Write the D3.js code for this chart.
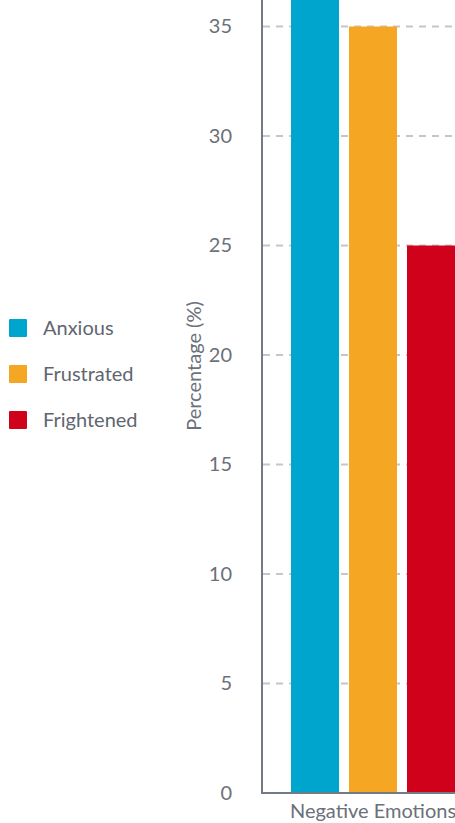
<!DOCTYPE html>
<html>
<head>
<meta charset="utf-8">
<script src="https://cdn.jsdelivr.net/npm/d3@7"></script>
<style>
  body { margin: 0; background: #fff; }
  svg { display: block; font-family: Lato, "Open Sans", sans-serif; }
</style>
</head>
<body>
<svg width="455" height="823"></svg>
<script>
// chart data
var categories = ["Negative Emotions"];
var seriesNames = ["Anxious", "Frustrated", "Frightened"];
var seriesColors = ["#00a5cd", "#f5a623", "#d0021b"];
var seriesValues = [40, 35, 25];
var yTicks = [0, 5, 10, 15, 20, 25, 30, 35];

var svg = d3.select("svg");

// y scale: 0 sits at 793, 35 at ~26.5
var y = d3.scaleLinear().domain([0, 35]).range([793, 26.5]);

// outer band for the category, inner band for the series
var x0 = d3.scaleBand().domain(categories).range([291, 455]);
var x1 = d3.scaleBand().domain(seriesNames).range([0, x0.bandwidth()]).paddingInner(10 / 58);

// gridlines
svg.append("g")
  .selectAll("line.grid")
  .data(yTicks.filter(function(d) { return d > 0; }))
  .enter()
  .append("line")
  .attr("class", "grid")
  .attr("x1", 263)
  .attr("x2", 455)
  .attr("y1", function(d) { return y(d); })
  .attr("y2", function(d) { return y(d); })
  .attr("stroke", "#c3c6ca")
  .attr("stroke-width", 2)
  .attr("stroke-dasharray", "7,6");

// bars
var bars = [];
categories.forEach(function(c) {
  seriesNames.forEach(function(s, i) {
    bars.push({ cat: c, name: s, value: seriesValues[i], color: seriesColors[i] });
  });
});

svg.append("g")
  .selectAll("rect.bar")
  .data(bars)
  .enter()
  .append("rect")
  .attr("class", "bar")
  .attr("x", function(d) { return x0(d.cat) + x1(d.name); })
  .attr("width", x1.bandwidth())
  .attr("y", function(d) { return y(d.value); })
  .attr("height", function(d) { return y(0) - y(d.value); })
  .attr("fill", function(d) { return d.color; });

// y axis (labels only, line drawn separately)
var yAxis = svg.append("g")
  .attr("transform", "translate(232,0)")
  .call(d3.axisLeft(y).tickValues(yTicks).tickSize(0).tickPadding(0));
yAxis.select(".domain").remove();
yAxis.selectAll("text")
  .attr("fill", "#6b7079")
  .attr("font-size", 20)
  .attr("font-family", "Lato, sans-serif");

// axis lines
svg.append("line")
  .attr("x1", 262).attr("x2", 262)
  .attr("y1", 0).attr("y2", 794)
  .attr("stroke", "#737a84").attr("stroke-width", 2);
svg.append("line")
  .attr("x1", 261).attr("x2", 455)
  .attr("y1", 793).attr("y2", 793)
  .attr("stroke", "#737a84").attr("stroke-width", 2);

// x axis category label
var xAxis = svg.append("g")
  .attr("transform", "translate(0,804)")
  .call(d3.axisBottom(x0).tickSize(0).tickPadding(0));
xAxis.select(".domain").remove();
xAxis.selectAll("text")
  .attr("fill", "#6b7079")
  .attr("font-size", 20)
  .attr("font-family", "Lato, sans-serif");

// y axis title
svg.append("text")
  .attr("transform", "translate(201,366) rotate(-90)")
  .attr("text-anchor", "middle")
  .attr("fill", "#6b7079")
  .attr("font-size", 20)
  .text("Percentage (%)");

// legend
var legend = svg.append("g")
  .selectAll("g.item")
  .data(seriesNames)
  .enter()
  .append("g")
  .attr("class", "item")
  .attr("transform", function(d, i) { return "translate(9," + (328 + i * 46) + ")"; });

legend.append("rect")
  .attr("x", 0).attr("y", -9)
  .attr("width", 18).attr("height", 18)
  .attr("rx", 1)
  .attr("fill", function(d, i) { return seriesColors[i]; });

legend.append("text")
  .attr("x", 34)
  .attr("dy", "0.35em")
  .attr("fill", "#5f6670")
  .attr("font-size", 20)
  .text(function(d) { return d; });
</script>
</body>
</html>
